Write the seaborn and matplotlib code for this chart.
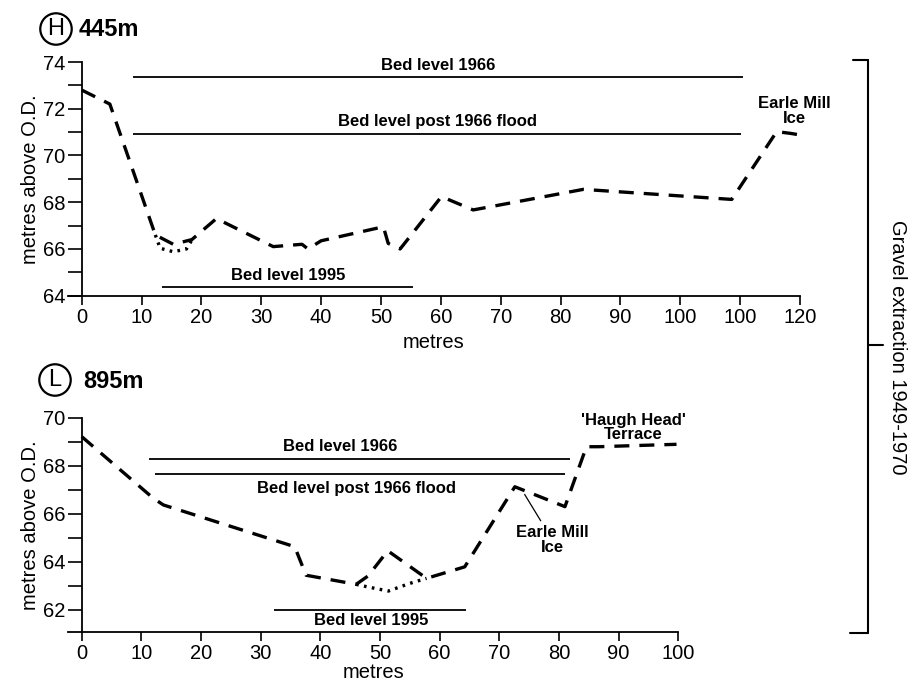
import matplotlib
matplotlib.use("Agg")
import matplotlib.pyplot as plt
from matplotlib.lines import Line2D
from matplotlib.ticker import MultipleLocator
import seaborn as sns
import pandas as pd

# --- section H (445 m) ---
h_x = [0, 4.7, 12.3, 15.3, 18.4, 22.5, 32, 36.8, 37.8, 40, 50.4, 51.2, 53.2,
       60.1, 65.4, 83.8, 108.6, 116.1, 118.3, 120]
h_y = [72.8, 72.2, 66.6, 66.2, 66.4, 67.3, 66.1, 66.2, 66.0, 66.35, 66.95,
       66.24, 66.0, 68.24, 67.67, 68.55, 68.12, 71.02, 70.95, 70.88]
h_dot_x = [12.3, 13.1, 15.3, 17.5, 18.4]
h_dot_y = [66.6, 66.03, 65.88, 66.0, 66.38]
h_levels = ["Bed level 1966", "Bed level post 1966 flood", "Bed level 1995"]
h_level_y = [73.35, 70.92, 64.36]
h_level_x0 = [8.6, 8.6, 13.4]
h_level_x1 = [110.5, 110.2, 55.4]
h_xticks = [0, 10, 20, 30, 40, 50, 60, 70, 80, 90, 100, 110, 120]
h_xticklabels = ["0", "10", "20", "30", "40", "50", "60", "70", "80", "90",
                 "100", "100", "120"]

# --- section L (895 m) ---
l_x = [0, 12, 13.7, 35.7, 37.6, 46, 48, 51.3, 57.8, 64.2, 72.6, 81, 84.6,
       86.6, 99.7]
l_y = [69.21, 66.64, 66.36, 64.62, 63.43, 63.05, 63.4, 64.45, 63.3, 63.78,
       67.12, 66.29, 68.79, 68.79, 68.89]
l_dot_x = [46, 47.8, 51.4, 55, 57.8]
l_dot_y = [63.05, 62.95, 62.77, 63.09, 63.3]
l_levels = ["Bed level 1966", "Bed level post 1966 flood", "Bed level 1995"]
l_level_y = [68.28, 67.64, 62.0]
l_level_x0 = [11.2, 12.3, 32.2]
l_level_x1 = [81.8, 81.0, 64.4]
l_xticks = [0, 10, 20, 30, 40, 50, 60, 70, 80, 90, 100]

sns.set_style("ticks")
plt.rcParams['font.family'] = ['Liberation Sans', 'DejaVu Sans']
plt.rcParams.update({"text.color": "black", "axes.labelcolor": "black",
                     "xtick.color": "black", "ytick.color": "black"})

fig = plt.figure(figsize=(9.11, 6.87), dpi=100)
ax1 = fig.add_axes([68 / 911, 1 - 295.7 / 687, 732 / 911, 233.7 / 687])
ax2 = fig.add_axes([68 / 911, 1 - 632.3 / 687, 610.3 / 911, 214.6 / 687])

dash = (0, (4.5, 3))
dots = (0, (0.8, 1.6))
LBL = 12


def style_axes(ax, xlim, ylim, yticks, xticks, xticklabels, xpad):
    ax.set_xlim(*xlim)
    ax.set_ylim(*ylim)
    for s in ["top", "right"]:
        ax.spines[s].set_visible(False)
    ax.spines["left"].set_position(("data", 0))
    for s in ["left", "bottom"]:
        ax.spines[s].set_linewidth(1.3)
        ax.spines[s].set_color("black")
    ax.set_yticks(yticks)
    ax.yaxis.set_minor_locator(MultipleLocator(1))
    ax.set_xticks(xticks)
    ax.set_xticklabels(xticklabels)
    ax.tick_params(axis="y", which="both", length=10, width=1.2, pad=2,
                   labelsize=14.5, color="black", labelcolor="black")
    ax.tick_params(axis="x", length=6.5, width=1.2, pad=2, labelsize=14.5,
                   color="black", labelcolor="black")
    ax.set_ylabel("metres above O.D.", fontsize=14.5, labelpad=2)
    ax.set_xlabel("metres", fontsize=14.5, labelpad=xpad)
    ax.grid(False)


# top panel
df_h = pd.DataFrame({"x": h_x, "y": h_y})
sns.lineplot(data=df_h, x="x", y="y", ax=ax1, sort=False, estimator=None,
             color="black", lw=2.4, linestyle=dash)
ax1.plot(h_dot_x, h_dot_y, color="black", lw=2.4, linestyle=dots)
ax1.hlines(h_level_y, h_level_x0, h_level_x1, color="black", lw=1.3)
for lab, yv, x0, x1 in zip(h_levels, h_level_y, h_level_x0, h_level_x1):
    ax1.text((x0 + x1) / 2 if lab != "Bed level 1995" else 34.5, yv + 0.2, lab,
             ha="center", va="bottom", fontsize=LBL, fontweight="bold")
ax1.text(119, 71.9, "Earle Mill\nIce", ha="center", va="center",
         fontsize=LBL, fontweight="bold", linespacing=0.95)
style_axes(ax1, (-2.29, 120), (64, 74), [64, 66, 68, 70, 72, 74],
           h_xticks, h_xticklabels, 5)

# bottom panel
df_l = pd.DataFrame({"x": l_x, "y": l_y})
sns.lineplot(data=df_l, x="x", y="y", ax=ax2, sort=False, estimator=None,
             color="black", lw=2.4, linestyle=dash)
ax2.plot(l_dot_x, l_dot_y, color="black", lw=2.4, linestyle=dots)
ax2.hlines(l_level_y, l_level_x0, l_level_x1, color="black", lw=1.3)
ax2.text(43.4, 68.5, l_levels[0], ha="center", va="bottom",
         fontsize=LBL, fontweight="bold")
ax2.text(46, 67.05, l_levels[1], ha="center", va="center",
         fontsize=LBL, fontweight="bold")
ax2.text(48.6, 61.53, l_levels[2], ha="center", va="center",
         fontsize=LBL, fontweight="bold")
ax2.annotate("Earle Mill\nIce", xy=(74, 66.9), xytext=(78.9, 64.9),
             ha="center", va="center", fontsize=LBL, fontweight="bold",
             linespacing=0.95,
             arrowprops=dict(arrowstyle="-", lw=0.9, color="black",
                             shrinkA=1, shrinkB=2))
ax2.text(92.4, 69.6, "'Haugh Head'\nTerrace", ha="center", va="center",
         fontsize=LBL, fontweight="bold", linespacing=0.95)
style_axes(ax2, (-2.3, 100), (61.05, 70), [62, 64, 66, 68, 70],
           l_xticks, [str(t) for t in l_xticks], 0)

# section titles
circ = dict(boxstyle="circle,pad=0.2", fc="none", ec="black", lw=1.6)
fig.text(56 / 911, 1 - 29 / 687, "H", ha="center", va="center",
         fontsize=17, bbox=circ)
fig.text(79 / 911, 1 - 29 / 687, "445m", ha="left", va="center",
         fontsize=17, fontweight="bold")
fig.text(55 / 911, 1 - 380 / 687, "L", ha="center", va="center",
         fontsize=17, bbox=circ)
fig.text(83 / 911, 1 - 381 / 687, "895m", ha="left", va="center",
         fontsize=17, fontweight="bold")

# bracket on the right
W, H = 911, 687
bx = 868 / W
for xs, ys in [([853 / W, bx], [1 - 60 / H, 1 - 60 / H]),
               ([bx, bx], [1 - 60 / H, 1 - 633 / H]),
               ([850 / W, bx], [1 - 633 / H, 1 - 633 / H]),
               ([bx, 883 / W], [1 - 345 / H, 1 - 345 / H])]:
    fig.add_artist(Line2D(xs, ys, color="black", lw=1.5))
fig.text(898 / W, 1 - 347 / H, "Gravel extraction 1949-1970", rotation=-90,
         ha="center", va="center", fontsize=14.5)

fig.savefig("out.png", dpi=100)
